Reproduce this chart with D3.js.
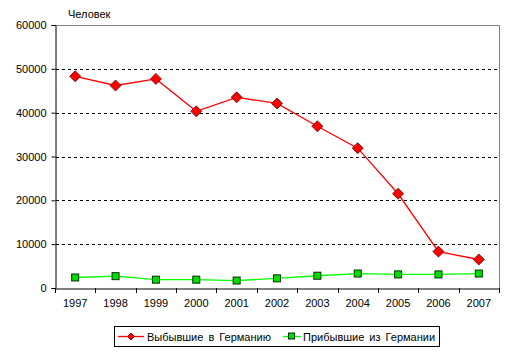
<!DOCTYPE html>
<html><head><meta charset="utf-8">
<script src="https://cdn.jsdelivr.net/npm/d3@7"></script>
<style>body{margin:0;background:#fff}svg{display:block}text{font-family:"Liberation Sans",Arial,sans-serif;font-size:11px;fill:#000}</style>
</head><body>
<script>
const years = ["1997","1998","1999","2000","2001","2002","2003","2004","2005","2006","2007"];
const departed = [48300,46200,47700,40300,43500,42100,36900,31900,21500,8300,6500];
const arrived = [2400,2700,1900,1900,1700,2200,2800,3300,3100,3100,3300];
const yTicks = [0,10000,20000,30000,40000,50000,60000];
const seriesNames = ["Выбывшие в Германию","Прибывшие из Германии"];
const unitLabel = "Человек";

const W=514,H=356;
const m={l:55,t:25,r:15,b:68};
const svg=d3.select("body").append("svg").attr("width",W).attr("height",H);
const x=d3.scaleBand().domain(years).range([m.l,W-m.r]);
const y=d3.scaleLinear().domain([0,60000]).range([H-m.b,m.t]);
const x0=m.l, x1=W-m.r, y0=H-m.b, y1=m.t;

// gridlines
svg.append("g").selectAll("line").data(yTicks.filter(d=>d>0&&d<60000)).join("line")
  .attr("x1",x0+1).attr("x2",x1-2).attr("y1",d=>Math.round(y(d))+0.5).attr("y2",d=>Math.round(y(d))+0.5)
  .attr("stroke","#000").attr("stroke-dasharray","3,3");
// top/right border
svg.append("path").attr("d",`M${x0},${y1+0.5}H${x1+0.5}V${y0}`).attr("fill","none").attr("stroke","#808080");

// y axis
const ya=svg.append("g").attr("transform",`translate(${x0+0.5},0)`)
  .call(d3.axisLeft(y).tickValues(yTicks).tickSize(4).tickPadding(5).tickFormat(d3.format("d")));
ya.select(".domain").attr("stroke","#000");
ya.selectAll("line").attr("stroke","#000");
ya.selectAll("text").style("font-size","11px").attr("font-family",null);

// x axis
const xa=svg.append("g").attr("transform",`translate(0,${Math.round(y0)+0.5})`)
  .call(d3.axisBottom(x).tickSize(0).tickPadding(11));
xa.select(".domain").attr("stroke","#000");
xa.selectAll("text").style("font-size","11px").attr("font-family",null);
// x tick marks at band boundaries
const bounds=years.map(d=>x(d)).concat([x1]);
svg.append("g").selectAll("line").data(bounds).join("line")
  .attr("x1",d=>Math.round(d)+0.5).attr("x2",d=>Math.round(d)+0.5)
  .attr("y1",Math.round(y0)).attr("y2",Math.round(y0)+5).attr("stroke","#000");

const cx=d=>x(d)+x.bandwidth()/2;
const line=d3.line().x((d,i)=>cx(years[i])).y(d=>y(d));

svg.append("path").datum(arrived).attr("d",line).attr("fill","none").attr("stroke","#00ff00").attr("stroke-width",1.3);
svg.append("path").datum(departed).attr("d",line).attr("fill","none").attr("stroke","#ff0000").attr("stroke-width",1.3);

const diamond="M0,-5.5L5.5,0L0,5.5L-5.5,0Z";
svg.append("g").selectAll("path").data(departed).join("path")
  .attr("d",diamond).attr("transform",(d,i)=>`translate(${cx(years[i])},${y(d)})`)
  .attr("fill","#ff0000").attr("stroke","#600000").attr("stroke-width",0.8);
svg.append("g").selectAll("rect").data(arrived).join("rect")
  .attr("x",(d,i)=>cx(years[i])-3.5).attr("y",d=>y(d)-3.5).attr("width",7).attr("height",7)
  .attr("fill","#00dd00").attr("stroke","#003000").attr("stroke-width",1);

svg.append("text").attr("x",68).attr("y",18).text(unitLabel);

// legend
const lg=svg.append("g");
lg.append("rect").attr("x",114.5).attr("y",326.5).attr("width",325).attr("height",20).attr("fill","#fff").attr("stroke","#000");
lg.append("line").attr("x1",118).attr("x2",144).attr("y1",336.5).attr("y2",336.5).attr("stroke","#ff0000").attr("stroke-width",1.3);
lg.append("path").attr("d","M0,-3.5L3.5,0L0,3.5L-3.5,0Z").attr("transform","translate(131,336.5)").attr("fill","#ff0000").attr("stroke","#600000").attr("stroke-width",0.8);
lg.append("text").attr("x",147).attr("y",340.5).style("word-spacing","2px").text(seriesNames[0]);
lg.append("line").attr("x1",283).attr("x2",301).attr("y1",336.5).attr("y2",336.5).attr("stroke","#00ff00").attr("stroke-width",1.3);
lg.append("rect").attr("x",283+5.5).attr("y",333).attr("width",6).attr("height",6).attr("fill","#00dd00").attr("stroke","#003000");
lg.append("text").attr("x",303).attr("y",340.5).style("word-spacing","2px").text(seriesNames[1]);
</script>
</body></html>
